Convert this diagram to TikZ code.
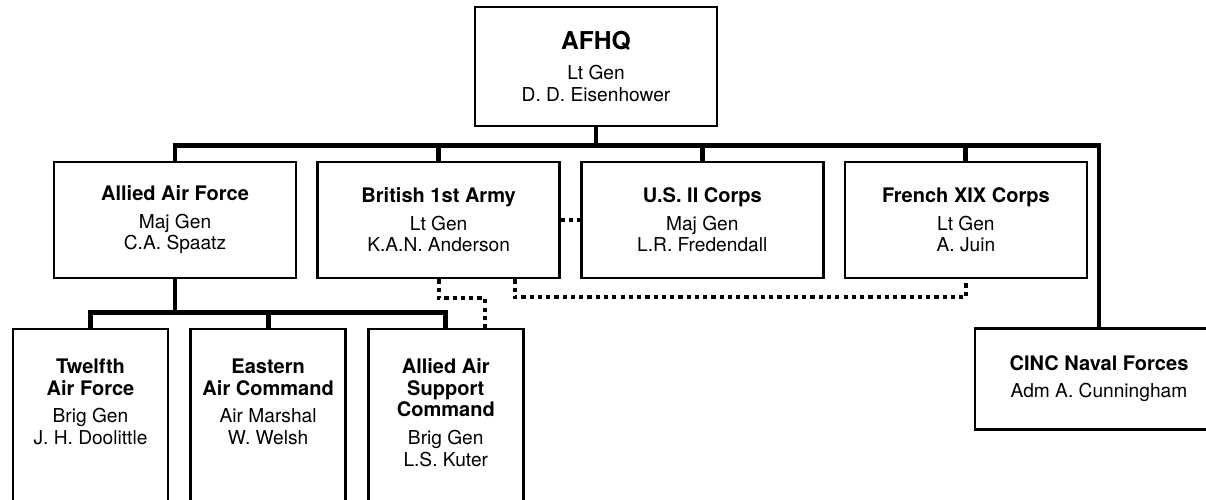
\documentclass[tikz,border=0pt]{standalone}
\usepackage{fontspec}
\setmainfont{TeX Gyre Heros}
\usetikzlibrary{positioning}
\newcommand{\unittitle}[1]{{\fontsize{11.4}{13}\selectfont\bfseries #1}}

\begin{document}
\begin{tikzpicture}[font=\fontsize{10.9}{12.3}\selectfont,
  unit/.style={draw, line width=1.5pt, align=center, inner sep=2pt, minimum width=4.84cm, minimum height=2.32cm},
  lowbox/.style={draw, line width=1.5pt, align=center, inner xsep=2pt, inner ysep=0.6cm, minimum width=3.1cm, text depth=4cm, anchor=north},
  link/.style={line width=2.8pt},
  dots/.style={line width=2.4pt, dash pattern=on 2.4pt off 2.3pt}]
\path[use as bounding box] (0,0) rectangle (24.12,-9.98);
\clip (0,0) rectangle (24.12,-9.98);
% top command
\node[unit, minimum height=2.38cm] (afhq) at (11.92,-1.33) {{\fontsize{14}{16}\selectfont\bfseries AFHQ}\\[5pt]Lt Gen\\D. D. Eisenhower};
% second row
\node[unit] (aaf) at (3.5,-4.4) {\unittitle{Allied Air Force}\\[3.4pt]Maj Gen\\C.A. Spaatz};
\node[unit, right=0.38cm of aaf] (brit) {\unittitle{British 1st Army}\\[3.4pt]Lt Gen\\K.A.N. Anderson};
\node[unit, right=0.38cm of brit] (us) {\unittitle{U.S. II Corps}\\[3.4pt]Maj Gen\\L.R. Fredendall};
\node[unit, right=0.38cm of us] (fr) {\unittitle{French XIX Corps}\\[3.4pt]Lt Gen\\A. Juin};
% air commands
\node[lowbox] (twelfth) at (1.81,-6.55) {\unittitle{Twelfth}\\\unittitle{Air Force}\\[3.4pt]Brig Gen\\J. H. Doolittle};
\node[lowbox, right=0.4cm of twelfth.north east, anchor=north west] (eac) {\unittitle{Eastern}\\\unittitle{Air Command}\\[3.4pt]Air Marshal\\W. Welsh};
\node[lowbox, right=0.4cm of eac.north east, anchor=north west] (aasc) {\unittitle{Allied Air}\\\unittitle{Support}\\\unittitle{Command}\\[3.4pt]Brig Gen\\L.S. Kuter};
\node[unit, minimum width=4.96cm, minimum height=2.02cm, anchor=north] (cinc) at (21.98,-6.54) {\unittitle{CINC Naval Forces}\\[3.4pt]Adm A. Cunningham};
% command lines
\coordinate[below=0.36cm of afhq] (hq bus);
\coordinate[below=0.66cm of aaf] (air bus);
\coordinate[below=0.38cm of brit] (coord bus);
\draw[link] (afhq) -- (hq bus);
\draw[link] (aaf.north) |- (hq bus) -| (cinc.north);
\foreach \n in {brit,us,fr} \draw[link] (\n.north) -- (\n.north |- hq bus);
\draw[link] (aaf) -- (air bus);
\draw[link] (twelfth.north) |- (air bus) -| (aasc.north);
\draw[link] (eac.north) -- (eac.north |- air bus);
% coordination
\draw[dots] (brit) -- (us);
\draw[dots] (brit) -- (coord bus) -| ([xshift=0.78cm]aasc.north);
\draw[dots] ([xshift=1.52cm]brit.south) |- ([yshift=-0.36cm]fr.south) -- (fr);
\end{tikzpicture}
\end{document}
